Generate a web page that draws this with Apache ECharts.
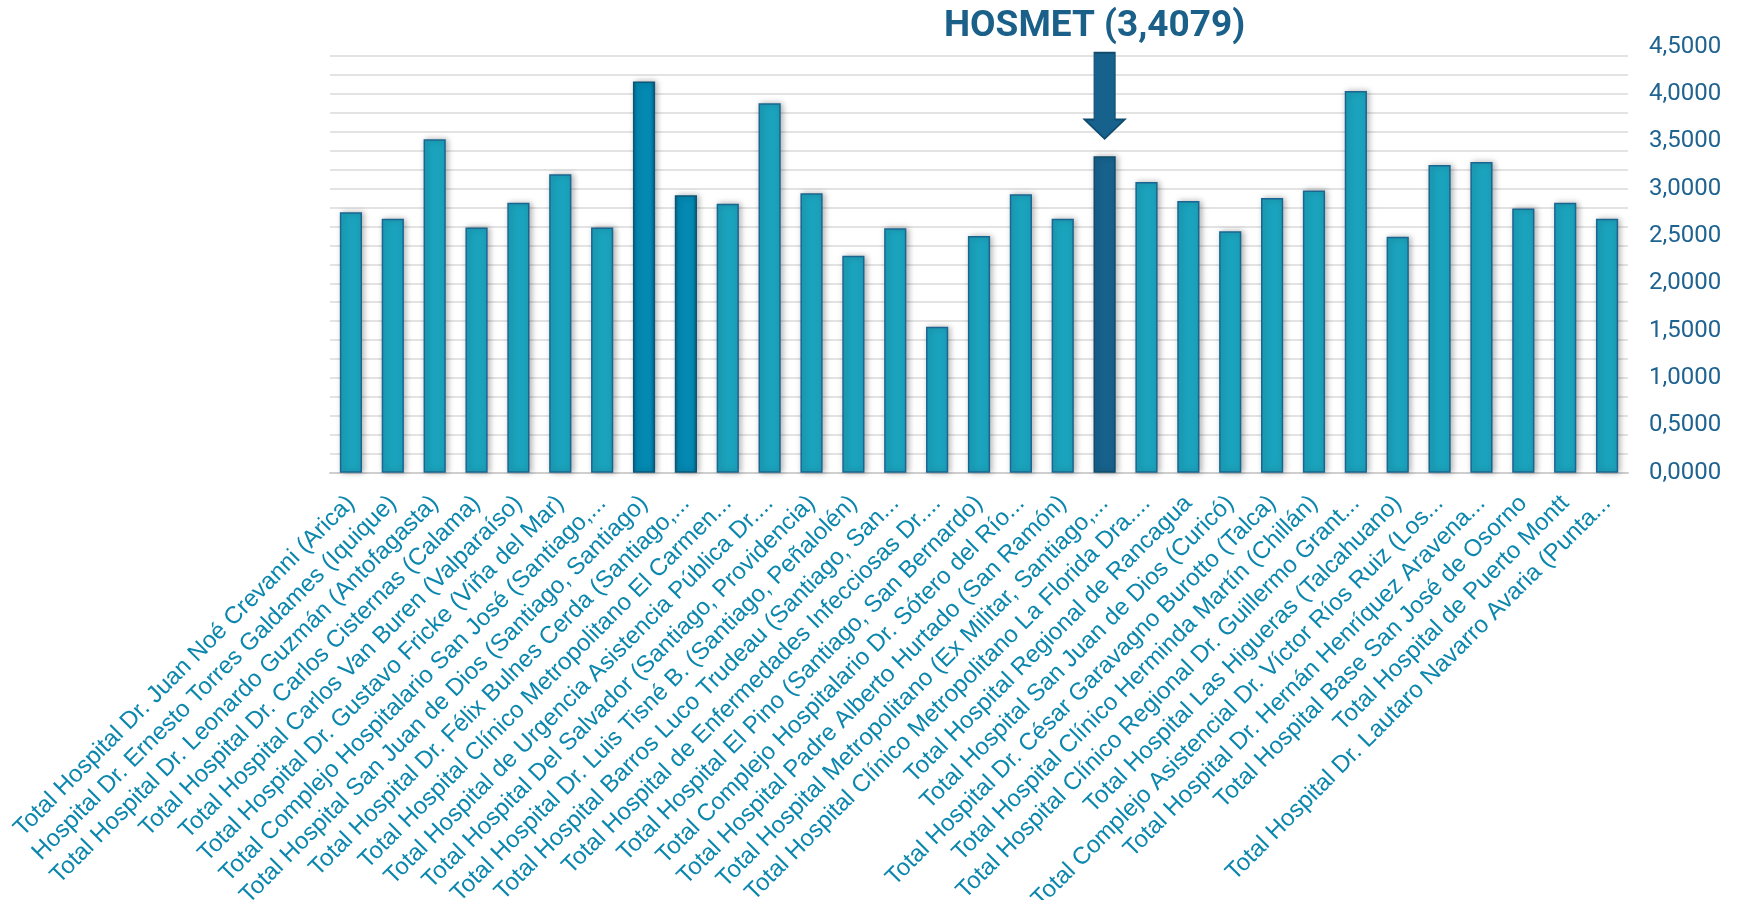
<!DOCTYPE html>
<html>
<head>
<meta charset="utf-8">
<title>HOSMET</title>
<script src="https://cdn.jsdelivr.net/npm/echarts@6/dist/echarts.min.js"></script>
<style>
  html, body { margin: 0; padding: 0; background: #fff; }
  #main { width: 1741px; height: 900px; }
</style>
</head>
<body>
<div id="main"></div>
<script>
// hospitales (etiquetas tal como aparecen, recortadas)
var hospitales = [
    'Total Hospital Dr. Juan Noé Crevanni (Arica)',
    'Hospital Dr. Ernesto Torres Galdames (Iquique)',
    'Total Hospital Dr. Leonardo Guzmán (Antofagasta)',
    'Total Hospital Dr. Carlos Cisternas (Calama)',
    'Total Hospital Carlos Van Buren (Valparaíso)',
    'Total Hospital Dr. Gustavo Fricke (Viña del Mar)',
    'Total Complejo Hospitalario San José (Santiago,...',
    'Total Hospital San Juan de Dios (Santiago, Santiago)',
    'Total Hospital Dr. Félix Bulnes Cerda (Santiago,...',
    'Total Hospital Clínico Metropolitano El Carmen...',
    'Total Hospital de Urgencia Asistencia Pública Dr....',
    'Total Hospital Del Salvador (Santiago, Providencia)',
    'Total Hospital Dr. Luis Tisné B. (Santiago, Peñalolén)',
    'Total Hospital Barros Luco Trudeau (Santiago, San...',
    'Total Hospital de Enfermedades Infecciosas Dr....',
    'Total Hospital El Pino (Santiago, San Bernardo)',
    'Total Complejo Hospitalario Dr. Sótero del Río...',
    'Total Hospital Padre Alberto Hurtado (San Ramón)',
    'Total Hospital Metropolitano (Ex Militar, Santiago,...',
    'Total Hospital Clínico Metropolitano La Florida Dra....',
    'Total Hospital Regional de Rancagua',
    'Total Hospital San Juan de Dios (Curicó)',
    'Total Hospital Dr. César Garavagno Burotto (Talca)',
    'Total Hospital Clínico Herminda Martín (Chillán)',
    'Total Hospital Clínico Regional Dr. Guillermo Grant...',
    'Total Hospital Las Higueras (Talcahuano)',
    'Total Complejo Asistencial Dr. Víctor Ríos Ruiz (Los...',
    'Total Hospital Dr. Hernán Henríquez Aravena...',
    'Total Hospital Base San José de Osorno',
    'Total Hospital de Puerto Montt',
    'Total Hospital Dr. Lautaro Navarro Avaria (Punta...'
];

var valores = [
    2.75, 2.68, 3.52, 2.59, 2.85, 3.15, 2.59, 4.13, 2.93, 2.84, 3.90,
    2.95, 2.29, 2.58, 1.54, 2.50, 2.94, 2.68, 3.34, 3.07, 2.87, 2.55,
    2.90, 2.98, 4.03, 2.49, 3.25, 3.28, 2.79, 2.85, 2.68
];

var destacados = [7, 8];   // barras más oscuras
var hosmet = 18;           // Hospital Metropolitano
var hosmetTexto = 'HOSMET (3,4079)';

var myChart = echarts.init(document.getElementById('main'));

var datos = valores.map(function (v, i) {
    var item = { value: v };
    if (destacados.indexOf(i) >= 0) {
        item.itemStyle = {
            color: new echarts.graphic.LinearGradient(0, 0, 1, 0, [
                { offset: 0, color: '#046b8f' },
                { offset: 0.2, color: '#0389b2' },
                { offset: 0.8, color: '#0389b2' },
                { offset: 1, color: '#04648a' }
            ]),
            borderColor: '#0d5577'
        };
    } else if (i === hosmet) {
        item.itemStyle = { color: '#17628c', borderColor: '#0f4c6e' };
    }
    return item;
});

var option = {
    animation: false,
    grid: {
        left: 330,
        right: 113,
        top: 46.5,
        bottom: 427.3,
        outerBoundsMode: 'none'
    },
    xAxis: {
        type: 'category',
        data: hospitales,
        axisTick: { show: false },
        axisLine: { show: true, lineStyle: { color: '#cfcfcf', width: 2 } },
        axisLabel: {
            interval: 0,
            rotate: 45,
            margin: 27,
            color: '#0b86ad',
            fontSize: 24,
            fontFamily: 'Liberation Sans'
        }
    },
    yAxis: [{
        type: 'value',
        position: 'right',
        min: 0,
        max: 4.5,
        interval: 0.5,
        axisLine: { show: false },
        axisTick: { show: false },
        splitLine: { show: false },
        axisLabel: {
            margin: 21,
            color: '#1f6391',
            fontSize: 24,
            fontFamily: 'Roboto',
            formatter: function (v) {
                return v.toFixed(4).replace('.', ',');
            }
        }
    }, {
        type: 'value',
        position: 'right',
        min: 0,
        max: 4.5,
        interval: 0.2,
        axisLine: { show: false },
        axisTick: { show: false },
        axisLabel: { show: false },
        splitLine: {
            show: true,
            showMaxLine: false,
            lineStyle: { color: '#dadada', width: 1.5 }
        }
    }],
    series: [{
        type: 'bar',
        yAxisIndex: 0,
        data: datos,
        barWidth: '53%',
        itemStyle: {
            color: '#1ba3bd',
            borderColor: '#1b6590',
            borderWidth: 1.5,
            shadowColor: 'rgba(0,0,0,0.3)',
            shadowBlur: 6,
            shadowOffsetX: 2
        },
        markPoint: {
            data: [{
                coord: [hosmet, 3.98],
                symbol: 'path://M9.5,0 L30.5,0 L30.5,77.6 L40,77.6 L20,100 L0,77.6 L9.5,77.6 Z',
                symbolSize: [40, 86],
                symbolKeepAspect: false,
                itemStyle: { color: '#17628c', borderColor: '#0f4c6e', borderWidth: 1.5 },
                label: {
                    show: true,
                    position: 'top',
                    distance: 6,
                    offset: [-10, 0],
                    formatter: hosmetTexto,
                    color: '#1a6088',
                    fontSize: 37,
                    fontWeight: 'bold',
                    fontFamily: 'Roboto'
                }
            }]
        }
    }]
};

myChart.setOption(option);
</script>
</body>
</html>
